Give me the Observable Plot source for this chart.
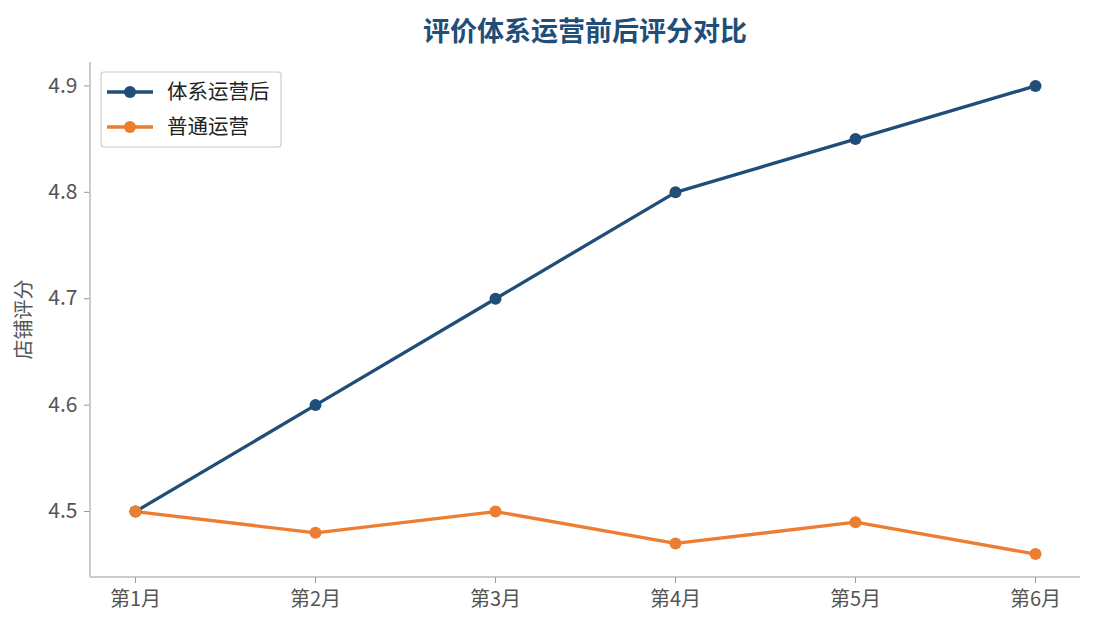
<!DOCTYPE html>
<html><head><meta charset="utf-8">
<script src="https://cdn.jsdelivr.net/npm/d3@7"></script>
<script src="https://cdn.jsdelivr.net/npm/@observablehq/plot@0.6"></script>
<style>
body{margin:0;background:#fff;}
#chart{position:relative;width:1095px;height:630px;}
</style></head>
<body><div id="chart"></div>
<script>
const months = ["第1月","第2月","第3月","第4月","第5月","第6月"];
const afterScores = [4.5, 4.6, 4.7, 4.8, 4.85, 4.9];
const normalScores = [4.5, 4.48, 4.5, 4.47, 4.49, 4.46];
const seriesNames = ["体系运营后","普通运营"];
const seriesColors = ["#1f4e79","#ed7d31"];
const yTicks = [4.5, 4.6, 4.7, 4.8, 4.9];
const title = "评价体系运营前后评分对比";
const yLabel = "店铺评分";

const data = [
  ...months.map((m,i)=>({month:m, score:afterScores[i], series:seriesNames[0]})),
  ...months.map((m,i)=>({month:m, score:normalScores[i], series:seriesNames[1]}))
];

const font = "'Noto Sans CJK SC', 'Noto Sans', sans-serif";
const W = 1095, H = 630, mL = 90, mR = 15, mT = 62, mB = 53;
const lo = 4.46 - 0.022, hi = 4.9 + 0.022;

const plot = Plot.plot({
  width: W, height: H,
  marginLeft: mL, marginRight: mR, marginTop: mT, marginBottom: mB,
  style: {fontFamily: font, background: "#fff"},
  x: {type: "point", domain: months, padding: 0.25},
  y: {domain: [lo, hi]},
  color: {domain: seriesNames, range: seriesColors},
  marks: [
    Plot.axisX({tickSize: 6, tickPadding: 8, stroke: "#999", color: "#555", fontSize: 20, label: null}),
    Plot.axisY({ticks: yTicks, tickFormat: d3.format(".1f"), tickSize: 6, tickPadding: 7, stroke: "#999", color: "#555", fontSize: 21, label: null}),
    Plot.line(data, {x: "month", y: "score", z: "series", stroke: "series", strokeWidth: 3.3}),
    Plot.dot(data, {x: "month", y: "score", fill: "series", r: 6})
  ]
});

const svg = d3.select(plot);
// spines
svg.append("line").attr("x1", mL).attr("x2", mL).attr("y1", mT).attr("y2", H - mB)
  .attr("stroke", "#bbb").attr("stroke-width", 1.5);
svg.append("line").attr("x1", mL).attr("x2", W - mR).attr("y1", H - mB).attr("y2", H - mB)
  .attr("stroke", "#bbb").attr("stroke-width", 1.5);
// title
svg.append("text").attr("x", (mL + W - mR) / 2).attr("y", 41).attr("text-anchor", "middle")
  .attr("font-family", font).attr("font-size", 27).attr("font-weight", "bold")
  .attr("fill", "#1f4e79").text(title);
// y label
svg.append("text").attr("transform", `translate(31,${(mT + H - mB) / 2}) rotate(-90)`)
  .attr("text-anchor", "middle").attr("font-family", font).attr("font-size", 20)
  .attr("fill", "#555").text(yLabel);
// legend
const lg = svg.append("g");
lg.append("rect").attr("x", 101).attr("y", 72).attr("width", 180).attr("height", 75).attr("rx", 3)
  .attr("fill", "#fff").attr("fill-opacity", 0.8).attr("stroke", "#ccc").attr("stroke-width", 1.2);
seriesNames.forEach((n, i) => {
  const y = 92 + i * 35;
  lg.append("line").attr("x1", 107).attr("x2", 153).attr("y1", y).attr("y2", y)
    .attr("stroke", seriesColors[i]).attr("stroke-width", 3.3);
  lg.append("circle").attr("cx", 130).attr("cy", y).attr("r", 6).attr("fill", seriesColors[i]);
  lg.append("text").attr("x", 167).attr("y", y).attr("dy", "0.35em").attr("text-anchor", "start")
    .attr("font-family", font).attr("font-size", 20.5).attr("fill", "#222").text(n);
});

document.getElementById("chart").appendChild(plot);
</script></body></html>
